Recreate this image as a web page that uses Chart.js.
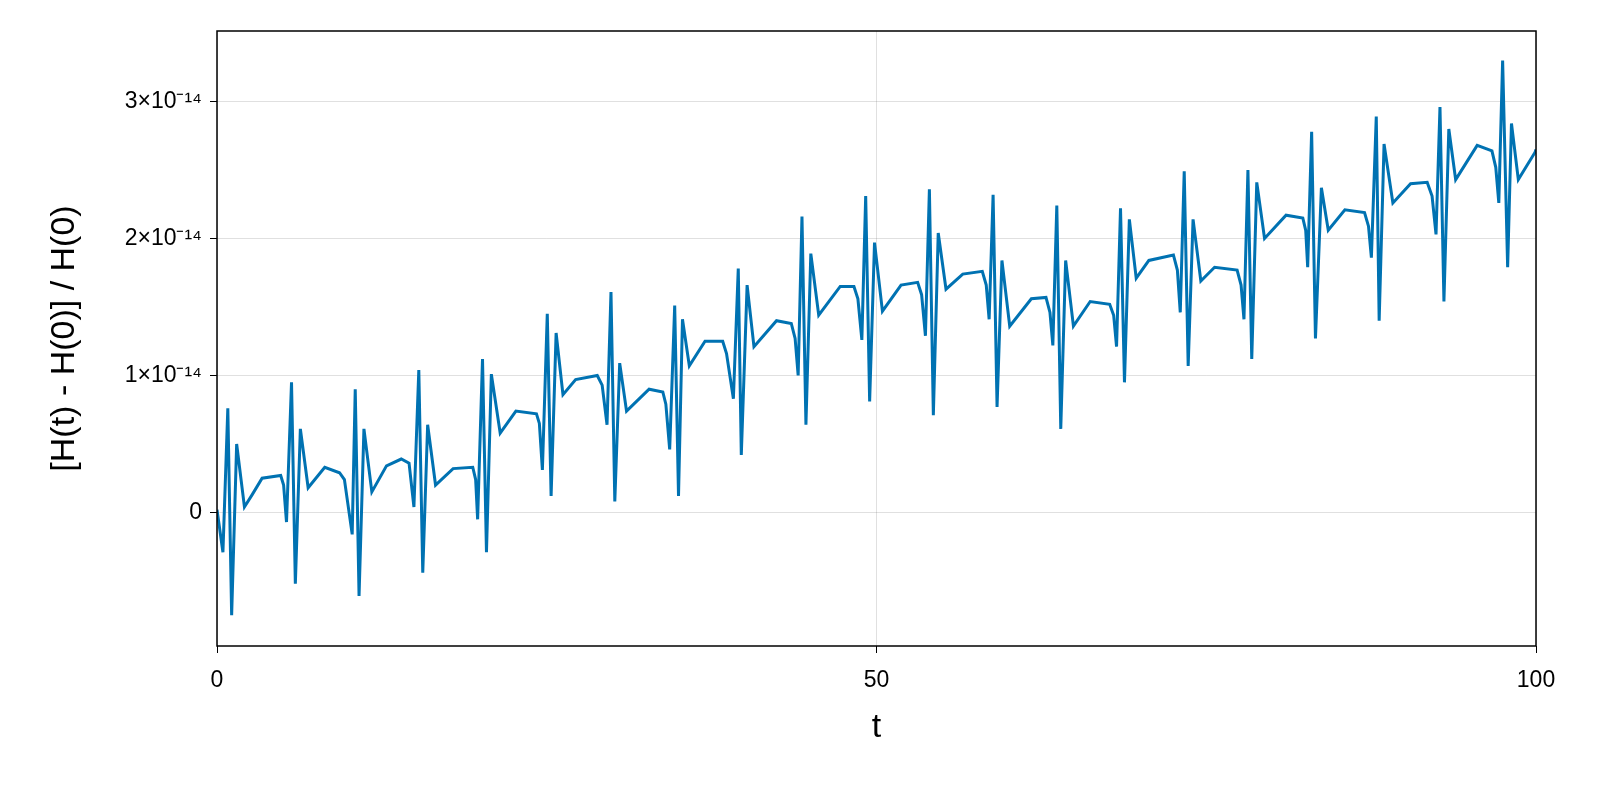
<!DOCTYPE html>
<html>
<head>
<meta charset="utf-8">
<script src="https://cdn.jsdelivr.net/npm/chart.js@4/dist/chart.umd.min.js"></script>
<style>
  html, body { margin: 0; padding: 0; background: #fff; }
  #wrap { width: 1600px; height: 800px; }
</style>
</head>
<body>
<div id="wrap"><canvas id="myChart" width="1600" height="800"></canvas></div>
<script>
// time values
var tValues = [
  0, 0.45, 0.82, 1.11, 1.49, 2.08, 2.67, 3.42, 4.83, 5.05, 5.27,
  5.65, 5.94, 6.32, 6.91, 8.17, 9.29, 9.66, 10.25,
  10.48, 10.77, 11.14, 11.74, 12.85, 13.97, 14.56, 14.93,
  15.30, 15.60, 15.97, 16.57, 17.90, 19.39, 19.61, 19.76,
  20.13, 20.43, 20.80, 21.47, 22.66, 24.22, 24.44, 24.67,
  25.04, 25.33, 25.71, 26.23, 27.19, 28.83, 29.20, 29.57,
  29.87, 30.16, 30.53, 31.05, 32.76, 33.80, 34.03, 34.32,
  34.70, 34.99, 35.29, 35.81, 37.00, 38.34, 38.63, 39.15,
  39.52, 39.75, 40.19, 40.71, 42.42, 43.54, 43.83, 44.06,
  44.35, 44.65, 45.02, 45.62, 47.25, 48.29, 48.59, 48.89,
  49.18, 49.48, 49.85, 50.45, 51.86, 53.12, 53.42, 53.71,
  54.01, 54.31, 54.68, 55.27, 56.54, 58.02, 58.32, 58.54,
  58.84, 59.14, 59.51, 60.10, 61.74, 62.85, 63.15, 63.37,
  63.67, 63.97, 64.34, 64.93, 66.20, 67.68, 67.98, 68.20,
  68.50, 68.80, 69.17, 69.69, 70.65, 72.51, 72.81, 73.03,
  73.33, 73.63, 74.00, 74.59, 75.63, 77.34, 77.64, 77.86,
  78.16, 78.45, 78.83, 79.42, 81.05, 82.32, 82.54, 82.69,
  82.99, 83.28, 83.73, 84.25, 85.51, 87.00, 87.30, 87.52,
  87.89, 88.11, 88.48, 89.15, 90.49, 91.75, 92.12, 92.42,
  92.72, 93.02, 93.39, 93.91, 95.54, 96.66, 96.95, 97.18,
  97.47, 97.85, 98.14, 98.66, 99.93, 100
];
// relative energy error, in units of 1e-14
var errValues = [
  0.02, -0.29, 0.76, -0.75, 0.50, 0.04, 0.13, 0.25, 0.27, 0.20, -0.07,
  0.95, -0.52, 0.61, 0.18, 0.33, 0.29, 0.24, -0.16,
  0.90, -0.61, 0.61, 0.15, 0.34, 0.39, 0.36, 0.04,
  1.04, -0.44, 0.64, 0.20, 0.32, 0.33, 0.24, -0.05,
  1.12, -0.29, 1.01, 0.58, 0.74, 0.72, 0.65, 0.31,
  1.45, 0.12, 1.31, 0.86, 0.97, 1.00, 0.93, 0.64,
  1.61, 0.08, 1.09, 0.74, 0.90, 0.88, 0.79, 0.46,
  1.51, 0.12, 1.41, 1.07, 1.25, 1.25, 1.16, 0.83,
  1.78, 0.42, 1.66, 1.21, 1.40, 1.38, 1.27, 1.00,
  2.16, 0.64, 1.89, 1.44, 1.65, 1.65, 1.56, 1.26,
  2.31, 0.81, 1.97, 1.47, 1.66, 1.68, 1.59, 1.29,
  2.36, 0.71, 2.04, 1.63, 1.74, 1.76, 1.66, 1.41,
  2.32, 0.77, 1.84, 1.36, 1.56, 1.57, 1.46, 1.22,
  2.24, 0.61, 1.84, 1.36, 1.54, 1.52, 1.44, 1.21,
  2.22, 0.95, 2.14, 1.71, 1.84, 1.88, 1.77, 1.46,
  2.49, 1.07, 2.14, 1.69, 1.79, 1.77, 1.66, 1.41,
  2.50, 1.12, 2.41, 2.00, 2.17, 2.15, 2.06, 1.79,
  2.78, 1.27, 2.37, 2.06, 2.21, 2.19, 2.09, 1.86,
  2.89, 1.40, 2.69, 2.26, 2.40, 2.41, 2.31, 2.03,
  2.96, 1.54, 2.80, 2.43, 2.68, 2.64, 2.52, 2.26,
  3.30, 1.79, 2.84, 2.43, 2.63, 2.65
];
var yTickValues = [0, 1, 2, 3];
var yTickLabels = ['0', '1×10⁻¹⁴', '2×10⁻¹⁴', '3×10⁻¹⁴'];
var xTickValues = [0, 50, 100];

var points = tValues.map(function (t, i) {
    return { x: t, y: errValues[i] };
});

var frame = {
    id: 'frame',
    afterDraw: function (chart) {
        var a = chart.chartArea, c = chart.ctx;
        c.save();
        c.strokeStyle = '#000';
        c.lineWidth = 1.5;
        c.strokeRect(a.left, a.top, a.right - a.left, a.bottom - a.top);
        c.restore();
    }
};

var ctx = document.getElementById('myChart').getContext('2d');
new Chart(ctx, {
    type: 'line',
    data: {
        datasets: [{
            data: points,
            borderColor: '#0072B2',
            borderWidth: 3,
            pointRadius: 0,
            tension: 0,
            fill: false
        }]
    },
    options: {
        responsive: false,
        animation: false,
        layout: { padding: { left: 40, right: 64, top: 31, bottom: 48 } },
        plugins: { legend: { display: false }, tooltip: { enabled: false } },
        scales: {
            x: {
                type: 'linear',
                min: 0,
                max: 100,
                afterBuildTicks: function (axis) {
                    axis.ticks = xTickValues.map(function (v) { return { value: v }; });
                },
                afterFit: function (axis) { axis.height = 106; },
                grid: { color: 'rgba(0,0,0,0.12)', tickColor: '#000', tickLength: 7, drawTicks: true },
                border: { display: false },
                ticks: { color: '#000', font: { family: 'Liberation Sans', size: 23 }, maxRotation: 0, padding: 14 },
                title: { display: true, text: 't', color: '#000', font: { family: 'Liberation Sans', size: 34 }, padding: { top: 0 } }
            },
            y: {
                min: -0.975,
                max: 3.515,
                afterBuildTicks: function (axis) {
                    axis.ticks = yTickValues.map(function (v) { return { value: v }; });
                },
                afterFit: function (axis) { axis.width = 177; },
                grid: { color: 'rgba(0,0,0,0.12)', tickColor: '#000', tickLength: 7 },
                border: { display: false },
                ticks: {
                    color: '#000',
                    font: { family: 'Liberation Sans', size: 23 },
                    padding: 8,
                    callback: function (v) {
                        var i = yTickValues.indexOf(v);
                        return i >= 0 ? yTickLabels[i] : '';
                    }
                },
                title: { display: true, text: '[H(t) - H(0)] / H(0)', color: '#000', font: { family: 'Liberation Sans', size: 34 }, padding: { bottom: 0 } }
            }
        }
    },
    plugins: [frame]
});
</script>
</body>
</html>
